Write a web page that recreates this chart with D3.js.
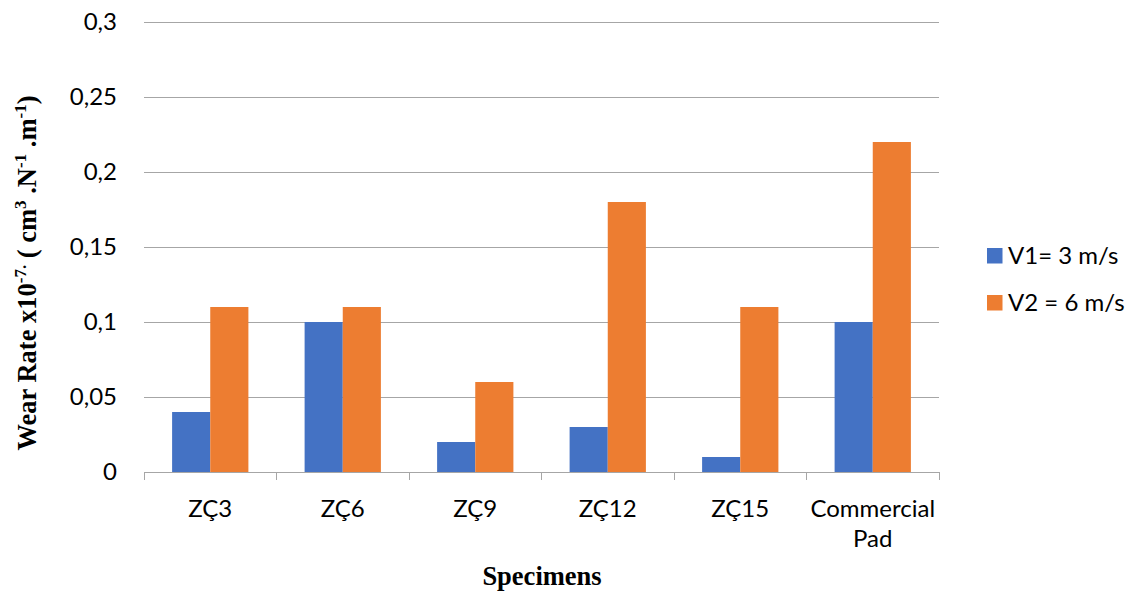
<!DOCTYPE html>
<html><head><meta charset="utf-8">
<script src="https://cdn.jsdelivr.net/npm/d3@7"></script>
<style>body{margin:0;background:#fff}</style>
</head><body>
<svg id="c" width="1129" height="592"></svg>
<script>
const categories = ["ZÇ3","ZÇ6","ZÇ9","ZÇ12","ZÇ15","Commercial Pad"];
const v1 = [0.04,0.10,0.02,0.03,0.01,0.10];
const v2 = [0.11,0.11,0.06,0.18,0.11,0.22];
const seriesNames = ["V1= 3 m/s","V2 = 6 m/s"];
const colors = ["#4472C4","#ED7D31"];
const yTicks = [0,0.05,0.1,0.15,0.2,0.25,0.3];
const yTickLabels = ["0","0,05","0,1","0,15","0,2","0,25","0,3"];

const svg = d3.select("#c");
const L=144,R=939,T=22,B=472;
const x = d3.scaleBand().domain(categories).range([L,R]).paddingInner(0).paddingOuter(0);
const y = d3.scaleLinear().domain([0,0.3]).range([B,T]);
const xs = d3.scaleBand().domain([0,1]).range([0,x.bandwidth()]).paddingInner(0).paddingOuter(28/38);
const tickFont = "Lato, 'Open Sans', sans-serif";
const serif = "'Liberation Serif', 'Times New Roman', serif";

// grid
svg.append("g").selectAll("line").data(yTicks.filter(d=>d>0)).join("line")
  .attr("x1",L).attr("x2",R).attr("y1",d=>y(d)).attr("y2",d=>y(d))
  .attr("stroke","#a6a6a6").attr("stroke-width",1).attr("shape-rendering","crispEdges");

// bars
const data = categories.map((c,i)=>({c,vals:[v1[i],v2[i]]}));
const g = svg.append("g").selectAll("g").data(data).join("g")
  .attr("transform",d=>`translate(${x(d.c)},0)`);
g.selectAll("rect").data(d=>d.vals.map((v,k)=>({v,k}))).join("rect")
  .attr("x",d=>xs(d.k)).attr("width",xs.bandwidth())
  .attr("y",d=>y(d.v)).attr("height",d=>B-y(d.v))
  .attr("fill",d=>colors[d.k]);

// y axis labels
const yAxis = d3.axisLeft(y).tickValues(yTicks).tickFormat((d,i)=>yTickLabels[i]).tickSize(0).tickPadding(0);
const ya = svg.append("g").attr("transform",`translate(117,0)`).call(yAxis);
ya.select(".domain").remove();
ya.selectAll("text").attr("font-family",tickFont).attr("font-size",24).attr("fill","#000");

// x axis
const xAxis = d3.axisBottom(x).tickSize(0).tickFormat("");
const xa = svg.append("g").attr("transform",`translate(0,${B})`).call(xAxis);
xa.select(".domain").attr("stroke","#a6a6a6").attr("d",`M${L},0.5H${R}`);
const boundaries = categories.map(c=>x(c)).concat([R]);
xa.selectAll(".bt").data(boundaries).join("line").attr("class","bt")
  .attr("x1",d=>d).attr("x2",d=>d).attr("y1",0).attr("y2",8)
  .attr("stroke","#a6a6a6").attr("shape-rendering","crispEdges");
const lab = svg.append("g").selectAll("text").data(categories).join("text")
  .attr("x",d=>x(d)+x.bandwidth()/2).attr("y",517)
  .attr("text-anchor","middle").attr("font-family",tickFont).attr("font-size",24).attr("fill","#000");
lab.each(function(d){
  const parts = d.split(" ");
  const t = d3.select(this);
  parts.forEach((p,i)=>t.append("tspan").attr("x",x(d)+x.bandwidth()/2).attr("dy",i===0?0:30).text(p));
});

// axis titles
svg.append("text").attr("x",542).attr("y",585).attr("text-anchor","middle")
  .attr("font-family",serif).attr("font-weight","bold").attr("font-size",26.5)
  .text("Specimens");
const yt = svg.append("text").attr("transform","translate(36,273) rotate(-90)").attr("text-anchor","middle")
  .attr("font-family",serif).attr("font-weight","bold").attr("font-size",26.5);
const sup = (t)=>yt.append("tspan").attr("font-size",17).attr("dy",-10).text(t);
const nor = (t)=>yt.append("tspan").attr("dy",10).text(t);
yt.append("tspan").text("Wear Rate x10");
sup("-7.");
nor(" ( cm");
sup("3");
nor(" .N");
sup("-1");
nor(" .m");
sup("-1");
nor(")");

// legend
const lg = svg.append("g").selectAll("g").data(seriesNames).join("g")
  .attr("transform",(d,i)=>`translate(987,${248+i*47})`);
lg.append("rect").attr("width",15.5).attr("height",15.5).attr("fill",(d,i)=>colors[i]);
lg.append("text").attr("x",21).attr("y",8).attr("dy","0.35em").attr("font-family",tickFont)
  .attr("font-size",24).attr("fill","#000").text(d=>d);
</script>
</body></html>
